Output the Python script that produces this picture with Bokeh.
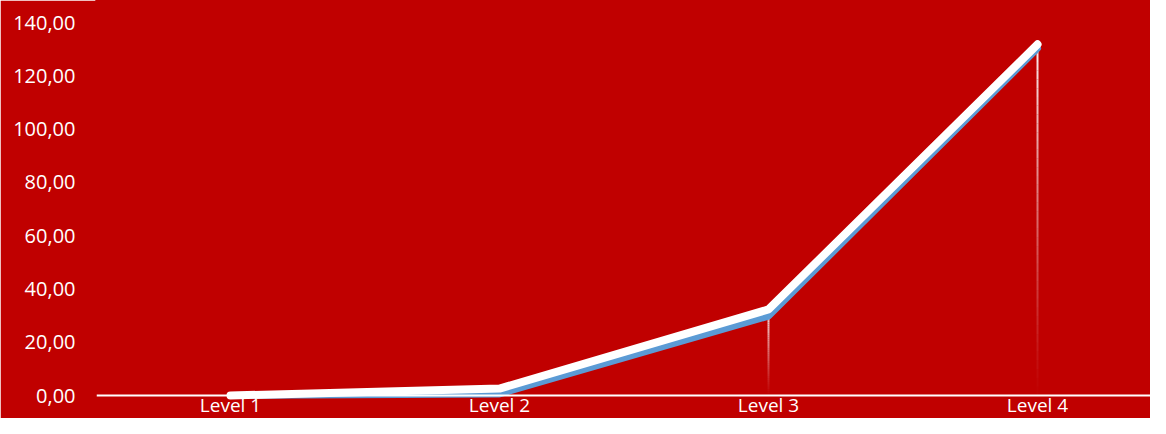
import numpy as np
from bokeh.plotting import figure
from bokeh.models import Span, FixedTicker, Range1d
from bokeh.core.properties import value
from bokeh.embed import file_html
from bokeh.resources import INLINE

categories = ["Level 1", "Level 2", "Level 3", "Level 4"]
white_values = [0.0, 2.6, 32.3, 131.8]
blue_values = [0.0, 0.6, 29.8, 130.3]
y_ticks = [0, 20, 40, 60, 80, 100, 120, 140]
y_tick_labels = ["0,00", "20,00", "40,00", "60,00", "80,00", "100,00", "120,00", "140,00"]

RED = "#C00000"
BLUE = "#5B9BD5"
FONT = "Open Sans"

xs = list(range(1, len(categories) + 1))

p = figure(width=1150, height=418, output_backend="svg", toolbar_location=None,
           x_range=Range1d(0.502, 4.42), y_range=Range1d(-8.63, 148.26),
           min_border_left=96, min_border_right=0, min_border_top=0, min_border_bottom=0)
p.background_fill_color = RED
p.border_fill_color = RED
p.outline_line_color = RED
p.outline_line_width = 2
p.xgrid.visible = False
p.ygrid.visible = False
p.xaxis.visible = False

ya = p.yaxis[0]
ya.ticker = FixedTicker(ticks=y_ticks)
ya.major_label_overrides = {t: lbl for t, lbl in zip(y_ticks, y_tick_labels)}
ya.axis_line_color = RED
ya.axis_line_width = 3
ya.major_tick_line_color = None
ya.minor_tick_line_color = None
ya.major_tick_in = 0
ya.major_tick_out = 0
ya.major_label_standoff = 21
ya.major_label_text_color = "white"
ya.major_label_text_font = FONT
ya.major_label_text_font_size = "20px"

# drop lines with fading gradient (drawn as stacked segments)
N = 40
seg_x, seg_y0, seg_y1, seg_a = [], [], [], []
for x, v in zip(xs, white_values):
    if v < 5:
        continue
    for i in range(N):
        f0 = 1 - i / N
        f1 = 1 - (i + 1) / N
        seg_x.append(x)
        seg_y0.append(v * f0)
        seg_y1.append(v * f1)
        seg_a.append(0.92 * (1 - i / N) ** 1.2)
p.segment(x0=seg_x, y0=seg_y0, x1=seg_x, y1=seg_y1, line_color="white",
          line_alpha=seg_a, line_width=2)

# axis line
p.add_layout(Span(location=0, dimension="width", line_color="white", line_width=2))

# series
p.line(xs, blue_values, line_color=BLUE, line_width=7, line_cap="round", line_join="round")
p.line(xs, white_values, line_color="white", line_width=8, line_cap="round", line_join="round")

# category labels
p.text(x=xs, y=[-8.3] * len(xs), text=categories, text_color="white",
       text_font=value(FONT), text_font_size="19px", text_align="center",
       text_baseline="bottom")

open("out.html", "w").write(file_html(p, INLINE))
